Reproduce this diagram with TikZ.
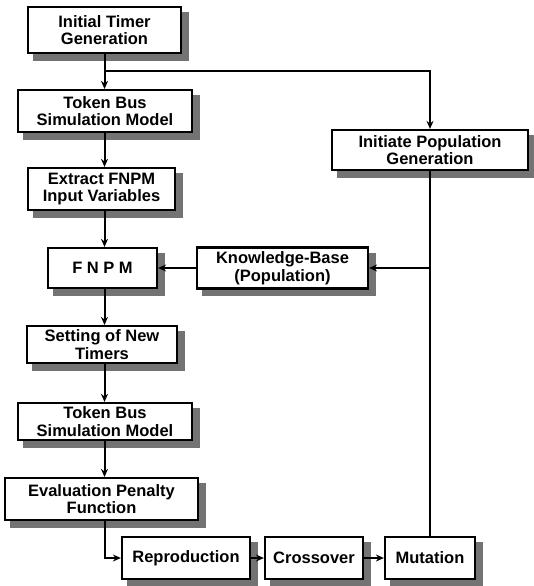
\documentclass[tikz,border=0pt]{standalone}
\usepackage{fontspec}
\setmainfont{Liberation Sans}
\usetikzlibrary{arrows.meta,backgrounds}
\tikzset{
    flowbox/.style={rectangle, draw, fill=white, line width=2.2pt, inner sep=0pt, align=center,
        font=\bfseries\fontsize{16.5}{17.5}\selectfont}
}
\begin{document}
\begin{tikzpicture}[x=1pt,y=-1pt]
        \useasboundingbox (0,0) rectangle (533,586);
        \begin{scope}[every node/.style={flowbox}]
        \node[minimum width=153pt, minimum height=46pt] (init) at (104.5,30) {Initial Timer\\Generation};
        \node[minimum width=174pt, minimum height=42pt] (tbus1) at (105,111) {Token Bus\\Simulation Model};
        \node[minimum width=147pt, minimum height=42pt] (extract) at (101.5,189) {Extract FNPM\\Input Variables};
        \node[minimum width=109pt, minimum height=40pt] (fnpm) at (102.5,268) {F N P M};
        \node[minimum width=171pt, minimum height=41pt] (kbase) at (282.5,268) {Knowledge-Base\\(Population)};
        \node[minimum width=196pt, minimum height=40pt] (initpop) at (430,150) {Initiate Population\\Generation};
        \node[minimum width=150pt, minimum height=37pt] (setting) at (102,344.5) {Setting of New\\Timers};
        \node[minimum width=174pt, minimum height=37pt] (tbus2) at (105,421.5) {Token Bus\\Simulation Model};
        \node[minimum width=193pt, minimum height=42pt] (penalty) at (101.5,499) {Evaluation Penalty\\Function};
        \node[minimum width=128pt, minimum height=42pt] (repro) at (186,558) {Reproduction};
        \node[minimum width=98pt, minimum height=42pt] (cross) at (314,558) {Crossover};
        \node[minimum width=90pt, minimum height=42pt] (mutate) at (430,558) {Mutation};
        \end{scope}

        % shadows behind the boxes
        \begin{scope}[on background layer]
        \foreach \n in {init,tbus1,extract,fnpm,kbase,initpop,setting,tbus2,penalty,repro,cross,mutate}
            \fill[black!55] ([shift={(6.5,6.5)}]\n.north west) rectangle ([shift={(6.5,6.5)}]\n.south east);
        \end{scope}

        \begin{scope}[line width=2pt, >={Stealth[black, length=8pt, width=7pt]}]
        \draw [->] (init.south) -- (init.south |- tbus1.north);
        \draw [->] (tbus1.south -| init.south) -- (init.south |- extract.north);
        \draw [->] (init.south |- extract.south) -- (init.south |- fnpm.north);
        \draw [->] (init.south |- fnpm.south) -- (init.south |- setting.north);
        \draw [->] (init.south |- setting.south) -- (init.south |- tbus2.north);
        \draw [->] (init.south |- tbus2.south) -- (init.south |- penalty.north);
        \draw [->] (kbase.west) -- (fnpm.east);
        \draw [->] (repro.east) -- (cross.west);
        \draw [->] (cross.east) -- (mutate.west);
        \draw [->] (init.south |- penalty.south) |- (repro.west);
        \draw [->] (init.south |- 0,71) -| (initpop.north);
        \draw (initpop.south) -- (mutate.north);
        \draw [->] (initpop.south |- kbase.east) -- (kbase.east);
        \end{scope}
    \end{tikzpicture}
\end{document}
